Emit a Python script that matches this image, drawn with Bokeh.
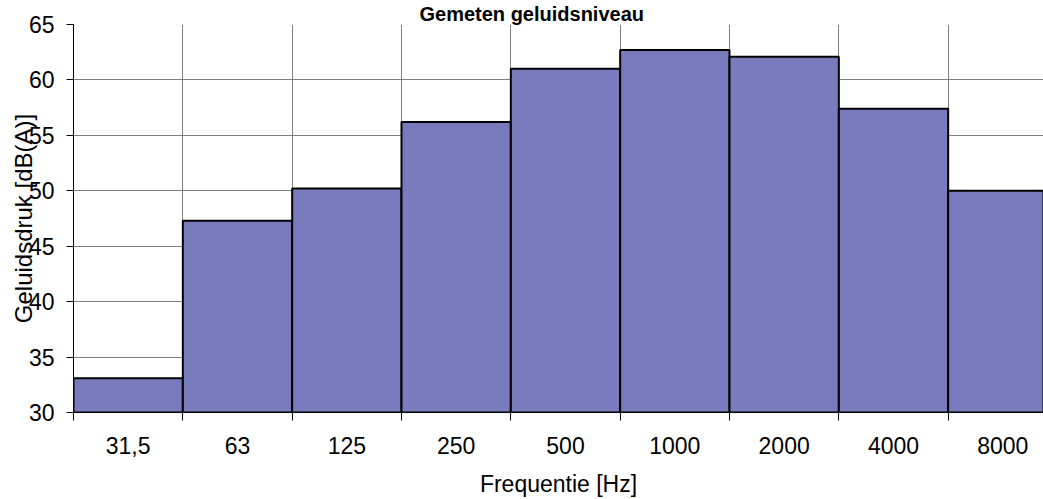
from bokeh.plotting import figure
from bokeh.models import Range1d, FixedTicker
from bokeh.embed import file_html
from bokeh.resources import INLINE

# ---- data ----
freq_labels = ["31,5", "63", "125", "250", "500", "1000", "2000", "4000", "8000"]
levels = [33.1, 47.3, 50.2, 56.2, 61.0, 62.7, 62.1, 57.4, 50.0]
y_ticks = [30, 35, 40, 45, 50, 55, 60, 65]

title_text = "Gemeten geluidsniveau"
x_title = "Frequentie [Hz]"
y_title = "Geluidsdruk [dB(A)]"

FONT = "Liberation Sans"
BAR_COLOR = "#787CBC"
GRID_COLOR = "#808080"

centers = [i + 0.5 for i in range(len(freq_labels))]
edges = list(range(len(freq_labels) + 1))

p = figure(width=1043, height=499, output_backend="svg", toolbar_location=None,
           x_range=Range1d(0, 8.872), y_range=Range1d(30, 65),
           min_border_left=73, min_border_right=0, min_border_top=23,
           min_border_bottom=87)
p.outline_line_color = None
p.background_fill_color = "white"
p.border_fill_color = "white"

# title (kept small enough to fit in the top border)
p.title.text = title_text
p.title.align = "left"
p.title.offset = 346
p.title.text_font = FONT
p.title.text_font_size = "20px"
p.title.text_font_style = "bold"
p.title.text_color = "black"
p.title.standoff = 0

p.vbar(x=centers, top=levels, bottom=30, width=1, fill_color=BAR_COLOR,
       line_color="black", line_width=2)

# x axis
xa = p.xaxis[0]
xa.ticker = FixedTicker(ticks=centers, minor_ticks=edges)
xa.major_label_overrides = {c: l for c, l in zip(centers, freq_labels)}
xa.major_tick_out = 0
xa.major_tick_in = 0
xa.minor_tick_out = 8
xa.minor_tick_in = 0
xa.minor_tick_line_color = "black"
xa.axis_line_color = "black"
xa.major_label_text_font = FONT
xa.major_label_text_font_size = "23px"
xa.major_label_text_color = "black"
xa.major_label_standoff = 16
xa.axis_label = x_title
xa.axis_label_text_font = FONT
xa.axis_label_text_font_size = "23px"
xa.axis_label_text_font_style = "normal"
xa.axis_label_text_color = "black"
xa.axis_label_standoff = 14

# y axis
ya = p.yaxis[0]
ya.ticker = FixedTicker(ticks=y_ticks)
ya.minor_tick_line_color = None
ya.major_tick_out = 7
ya.major_tick_in = 0
ya.major_tick_line_color = "black"
ya.axis_line_color = "black"
ya.major_label_text_font = FONT
ya.major_label_text_font_size = "23px"
ya.major_label_text_color = "black"
ya.major_label_standoff = 12
ya.axis_label = y_title
ya.axis_label_text_font = FONT
ya.axis_label_text_font_size = "24px"
ya.axis_label_text_font_style = "normal"
ya.axis_label_text_color = "black"
ya.axis_label_standoff = -11

# grids
p.xgrid.ticker = FixedTicker(ticks=edges)
p.ygrid.ticker = FixedTicker(ticks=y_ticks)
for g in (p.xgrid[0], p.ygrid[0]):
    g.grid_line_color = GRID_COLOR
    g.grid_line_width = 1
    g.grid_line_alpha = 1.0

open("out.html", "w").write(file_html(p, INLINE))
